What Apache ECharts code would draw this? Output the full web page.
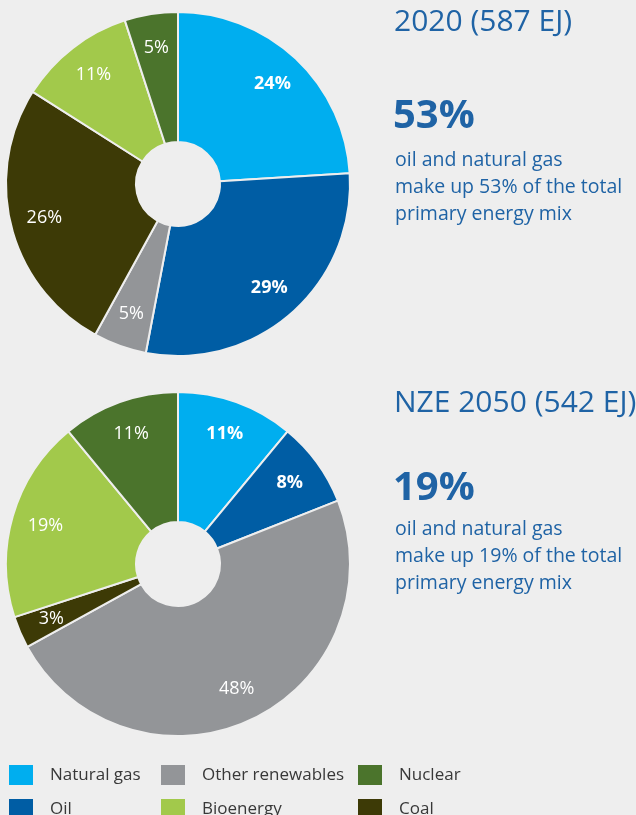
<!DOCTYPE html>
<html>
<head>
<meta charset="utf-8">
<script src="https://cdn.jsdelivr.net/npm/echarts@6/dist/echarts.min.js"></script>
<style>
  html, body { margin: 0; padding: 0; background: #eeeeee; }
  #chart { width: 636px; height: 815px; }
</style>
</head>
<body>
<div id="chart"></div>
<script>
// data
var categories = ['Natural gas', 'Oil', 'Other renewables', 'Coal', 'Bioenergy', 'Nuclear'];
var colors = ['#00aeef', '#005da4', '#939598', '#3d3a06', '#a2c94b', '#4b742c'];
var values2020 = [24, 29, 5, 26, 11, 5];
var values2050 = [11, 8, 48, 3, 19, 11];
var titles = ['2020 (587 EJ)', 'NZE 2050 (542 EJ)'];
var boldLabels = ['Natural gas', 'Oil'];

var legendCols = [['Natural gas', 'Oil'], ['Other renewables', 'Bioenergy'], ['Nuclear', 'Coal']];

var font = '"Open Sans", "Noto Sans", sans-serif';
var blue = '#1f63a5';

function pieData(vals) {
  var out = [];
  for (var i = 0; i < categories.length; i++) {
    out.push({
      name: categories[i],
      value: vals[i],
      itemStyle: { color: colors[i] },
      label: { fontWeight: boldLabels.indexOf(categories[i]) >= 0 ? 'bold' : 'normal' }
    });
  }
  return out;
}

function pies(vals, cy) {
  return [
    {
      type: 'pie',
      center: [178, cy],
      radius: [42, 172],
      startAngle: 90,
      clockwise: true,
      data: pieData(vals),
      label: { show: false },
      labelLine: { show: false },
      itemStyle: { borderColor: '#eeeeee', borderWidth: 2 },
      emphasis: { disabled: true }
    },
    {
      // labels only
      type: 'pie',
      center: [178, cy],
      radius: [98, 172],
      startAngle: 90,
      silent: true,
      legendHoverLink: false,
      data: pieData(vals).map(function (d) {
        d.itemStyle = { color: 'transparent' };
        return d;
      }),
      label: {
        show: true,
        position: 'inside',
        formatter: '{c}%',
        color: '#ffffff',
        fontSize: 18,
        fontFamily: font
      },
      labelLine: { show: false },
      emphasis: { disabled: true }
    }
  ];
}

// ys: title, big number, middle of the 3 lines
function sideText(title, share, ys) {
  return [
    { type: 'text', x: 394, y: ys[0], style: { text: title, fill: blue, font: '30px ' + font, verticalAlign: 'middle' } },
    { type: 'text', x: 393, y: ys[1], style: { text: share + '%', fill: blue, font: 'bold 40px ' + font, verticalAlign: 'middle' } },
    { type: 'text', x: 395, y: ys[2], style: {
      text: 'oil and natural gas\nmake up ' + share + '% of the total\nprimary energy mix',
      fill: blue, font: '19.5px ' + font, lineHeight: 27, verticalAlign: 'middle' } }
  ];
}

var share2020 = values2020[0] + values2020[1];
var share2050 = values2050[0] + values2050[1];

var legendLefts = [7, 159, 356];
var legends = legendCols.map(function (col, i) {
  return {
    data: col,
    orient: 'vertical',
    left: legendLefts[i],
    top: 763,
    height: 80,
    padding: 0,
    itemWidth: 26,
    itemHeight: 22,
    itemGap: 10,
    icon: 'rect',
    selectedMode: false,
    textStyle: { color: '#383838', fontSize: 17, fontFamily: font, padding: [0, 0, 0, 11] }
  };
});

var chart = echarts.init(document.getElementById('chart'));
chart.setOption({
  backgroundColor: '#eeeeee',
  animation: false,
  legend: legends,
  series: pies(values2020, 184).concat(pies(values2050, 564)),
  graphic: sideText(titles[0], share2020, [22, 117, 187]).concat(sideText(titles[1], share2050, [403, 489, 556]))
});
</script>
</body>
</html>
